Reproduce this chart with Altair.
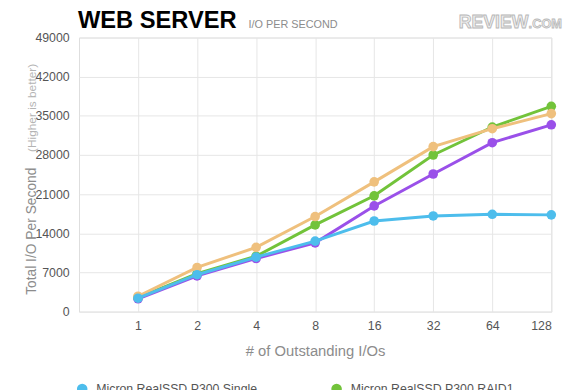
import altair as alt
import pandas as pd

io = [1, 2, 4, 8, 16, 32, 64, 128]
single = [2400, 6600, 9750, 12600, 16200, 17100, 17400, 17300]
raid1 = [2500, 6800, 9900, 15500, 20700, 28000, 33000, 36700]
raid0 = [2300, 6400, 9500, 12300, 18900, 24600, 30200, 33400]
raid10 = [2750, 7900, 11500, 17000, 23200, 29500, 32700, 35400]

names = ["Micron RealSSD P300 Single", "Micron RealSSD P300 RAID1",
         "Micron RealSSD P300 RAID0", "Micron RealSSD P300 RAID10"]
colors = ["#4dbdec", "#72c33a", "#9a50e9", "#efc07d"]
draw_order = [names[2], names[1], names[3], names[0]]
y_ticks = list(range(0, 49001, 7000))

rows = []
for name, vals in zip(names, [single, raid1, raid0, raid10]):
    for x, v in zip(io, vals):
        rows.append({"series": name, "io": x, "iops": v})
df = pd.DataFrame(rows)

FONT = "Liberation Sans"
axis_common = dict(labelFont=FONT, labelFontSize=12.5, labelColor="#555555", ticks=False,
                   domain=False, gridColor="#e6e6e6", gridWidth=1)

X = alt.X("io:Q",
          scale=alt.Scale(type="log", base=2, domain=[0.5, 128], nice=False),
          axis=alt.Axis(values=io, format="d", title="# of Outstanding I/Os",
                        titleFont=FONT, titleFontSize=15, titleColor="#8c8c8c",
                        titleFontWeight="normal", titlePadding=12, labelPadding=8,
                        **axis_common))
Y = alt.Y("iops:Q",
          scale=alt.Scale(domain=[0, 49000], nice=False),
          axis=alt.Axis(values=y_ticks, format="d", title=None, labelPadding=10,
                        **axis_common))
cscale = alt.Scale(domain=names, range=colors)
leg = alt.Legend(title=None, orient="none", legendX=-3, legendY=350, columns=2,
                 direction="horizontal",
                 columnPadding=72, rowPadding=8, symbolType="circle", symbolSize=115,
                 labelFontSize=12.5, labelColor="#555555", labelFont=FONT, labelLimit=400,
                 labelOffset=8, padding=0, symbolStrokeWidth=0, symbolOpacity=1,
                 symbolFillColor="#000000")

base = alt.Chart(df)
layers = []
for name in draw_order:
    sub = base.transform_filter(alt.datum.series == name)
    layers.append(sub.mark_line(strokeWidth=3).encode(
        x=X, y=Y, color=alt.Color("series:N", scale=cscale, legend=leg)))
    layers.append(sub.mark_circle(size=95, opacity=1).encode(
        x=X, y=Y, color=alt.Color("series:N", scale=cscale, legend=leg)))

one = pd.DataFrame({"a": [0]})
ann = alt.Chart(one)
layers += [
    ann.mark_text(text="WEB SERVER", font=FONT, fontSize=24, fontWeight="bold",
                  color="#000000", align="left", baseline="alphabetic").encode(
        x=alt.value(-1), y=alt.value(-10)),
    ann.mark_text(text="I/O PER SECOND", font=FONT, fontSize=11,
                  color="#8c8c8c", align="left", baseline="alphabetic").encode(
        x=alt.value(172), y=alt.value(-10)),
    ann.mark_text(text="REVIEW", font=FONT, fontSize=18, fontWeight="bold",
                  color="#eeeeee", stroke="#b8b8b8", strokeWidth=0.9,
                  align="right", baseline="alphabetic").encode(
        x=alt.value(456), y=alt.value(-10)),
    ann.mark_text(text=".COM", font=FONT, fontSize=13, fontWeight="bold",
                  color="#eeeeee", stroke="#b8b8b8", strokeWidth=0.8,
                  align="left", baseline="alphabetic").encode(
        x=alt.value(456), y=alt.value(-10)),
    ann.mark_text(text="Total I/O Per Second", font=FONT, fontSize=14,
                  color="#8c8c8c", angle=270, align="left", baseline="alphabetic").encode(
        x=alt.value(-44), y=alt.value(261)),
    ann.mark_text(text="(Higher is better)", font=FONT, fontSize=12,
                  color="#b4b4b4", angle=270, align="left", baseline="alphabetic").encode(
        x=alt.value(-44), y=alt.value(116)),
]

chart = alt.layer(*layers).properties(
    width=479, height=278,
    padding={"left": 72, "top": 27, "right": 21, "bottom": 110},
    autosize=alt.AutoSizeParams(type="none"),
).configure_view(stroke="#b5b5b5", strokeWidth=1).configure(background="#ffffff")

chart.save("out.html", embed_options={"renderer": "svg", "actions": False})
